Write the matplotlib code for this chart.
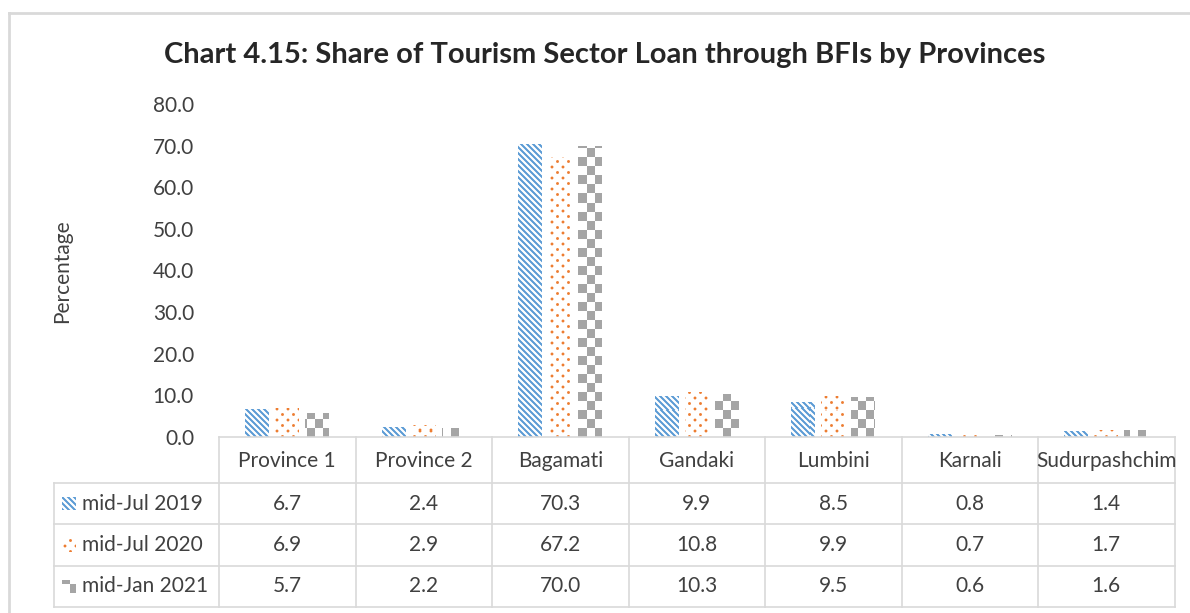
import numpy as np
import matplotlib
matplotlib.use("Agg")
import matplotlib.pyplot as plt
from matplotlib.lines import Line2D
from matplotlib.colors import LinearSegmentedColormap
from matplotlib.transforms import blended_transform_factory

# data
provinces = ["Province 1", "Province 2", "Bagamati", "Gandaki", "Lumbini",
             "Karnali", "Sudurpashchim"]
series_names = ["mid-Jul 2019", "mid-Jul 2020", "mid-Jan 2021"]
jul_2019 = [6.7, 2.4, 70.3, 9.9, 8.5, 0.8, 1.4]
jul_2020 = [6.9, 2.9, 67.2, 10.8, 9.9, 0.7, 1.7]
jan_2021 = [5.7, 2.2, 70.0, 10.3, 9.5, 0.6, 1.6]
y_ticks = [0, 10, 20, 30, 40, 50, 60, 70, 80]

blue = "#5B9BD5"
orange = "#ED7D31"
gray = "#A5A5A5"
grid_c = "#D9D9D9"
txt_c = "#404040"

plt.rcParams["font.family"] = ["Lato", "DejaVu Sans"]

W, H = 1190, 613
fig = plt.figure(figsize=(W / 100, H / 100), dpi=100)


def fx(px):
    return px / W


def fy(py):
    return 1 - py / H


ax = fig.add_axes([fx(219), fy(437), fx(1174.5) - fx(219), fy(104) - fy(437)])
ax_w, ax_h = int(round(1174.5 - 219)), 437 - 104


# Excel-like fill patterns, one screen pixel per image pixel
def stripes(nx, ny):
    xx, yy = np.meshgrid(np.arange(nx), np.arange(ny))
    s = 0.5 + 0.5 * np.cos(2 * np.pi * (xx + yy) / 6.0)
    return np.clip((s - 0.2) * 1.6, 0, 1)


def dots(nx, ny):
    xx, yy = np.meshgrid(np.arange(nx), np.arange(ny))
    p, q = xx + yy + 3, xx - yy + 3
    dp = (p + 5.5) % 11 - 5.5
    dq = (q + 5.5) % 11 - 5.5
    d = np.sqrt(dp ** 2 + dq ** 2) / np.sqrt(2)
    return np.clip(1.9 - d, 0, 1)


def checks(nx, ny):
    xx, yy = np.meshgrid(np.arange(nx), np.arange(ny))
    return ((xx // 8 + yy // 9) % 2).astype(float)


patterns = [(stripes, blue), (dots, orange), (checks, gray)]
cmaps = [LinearSegmentedColormap.from_list("p", ["white", c]) for _, c in patterns]

x = np.arange(len(provinces))
step, bw = 0.22, 0.175
all_series = [jul_2019, jul_2020, jan_2021]

for k, vals in enumerate(all_series):
    bars = ax.bar(x + (k - 1) * step, vals, bw, facecolor="none", linewidth=0)
    fill = patterns[k][0](ax_w, ax_h)
    for b in bars:
        im = ax.imshow(fill, cmap=cmaps[k], vmin=0, vmax=1, interpolation="nearest",
                       aspect="auto", origin="lower", transform=ax.transAxes,
                       extent=(0, 1, 0, 1))
        im.set_clip_path(b)

ax.set_xlim(-0.5, len(provinces) - 0.5)
ax.set_ylim(0, 80)
ax.set_yticks(y_ticks)
ax.set_yticklabels([f"{v:.1f}" for v in y_ticks], fontsize=15, color=txt_c)
ax.set_xticks([])
ax.tick_params(axis="y", length=0, pad=18)
for s in ["top", "right", "left"]:
    ax.spines[s].set_visible(False)
ax.spines["bottom"].set_color(grid_c)
ax.spines["bottom"].set_linewidth(1.2)

# title and axis label
fig.text(fx(605), fy(55), "Chart 4.15: Share of Tourism Sector Loan through BFIs by Provinces",
         ha="center", va="center", fontsize=21, fontweight="bold", color="#262626")
fig.text(fx(62), fy(271), "Percentage", rotation=90, ha="center", va="center",
         fontsize=15, color=txt_c)

# data table under the chart
bt = blended_transform_factory(ax.transData, fig.transFigure)
for py in [483, 524, 566, 607]:
    fig.add_artist(Line2D([fx(54), fx(1174.5)], [fy(py), fy(py)], color=grid_c, lw=1.2))
fig.add_artist(Line2D([fx(54), fx(54)], [fy(483), fy(607)], color=grid_c, lw=1.2))
for xb in np.arange(len(provinces) + 1) - 0.5:
    fig.add_artist(Line2D([xb, xb], [fy(437), fy(607)], color=grid_c, lw=1.2,
                          transform=bt))

for i, name in enumerate(provinces):
    fig.text(i, fy(461), name, transform=bt, ha="center", va="center",
             fontsize=15, color=txt_c)

row_mid = [503.5, 545, 586.5]
for r, (vals, name) in enumerate(zip(all_series, series_names)):
    for i, v in enumerate(vals):
        fig.text(i, fy(row_mid[r]), f"{v:.1f}", transform=bt, ha="center",
                 va="center", fontsize=15, color=txt_c)
    fig.text(fx(82), fy(row_mid[r]), name, ha="left", va="center",
             fontsize=15, color=txt_c)
    # legend key swatch
    key = patterns[r][0](14, 13)
    fig.figimage(key, xo=62, yo=int(H - row_mid[r] - 6.5), cmap=cmaps[r],
                 vmin=0, vmax=1, origin="lower")

# light outer frame
fig.add_artist(Line2D([fx(9), fx(9)], [fy(13), 0], color=grid_c, lw=2))
fig.add_artist(Line2D([fx(9), 1], [fy(13), fy(13)], color=grid_c, lw=2))

fig.savefig("out.png", dpi=100)
